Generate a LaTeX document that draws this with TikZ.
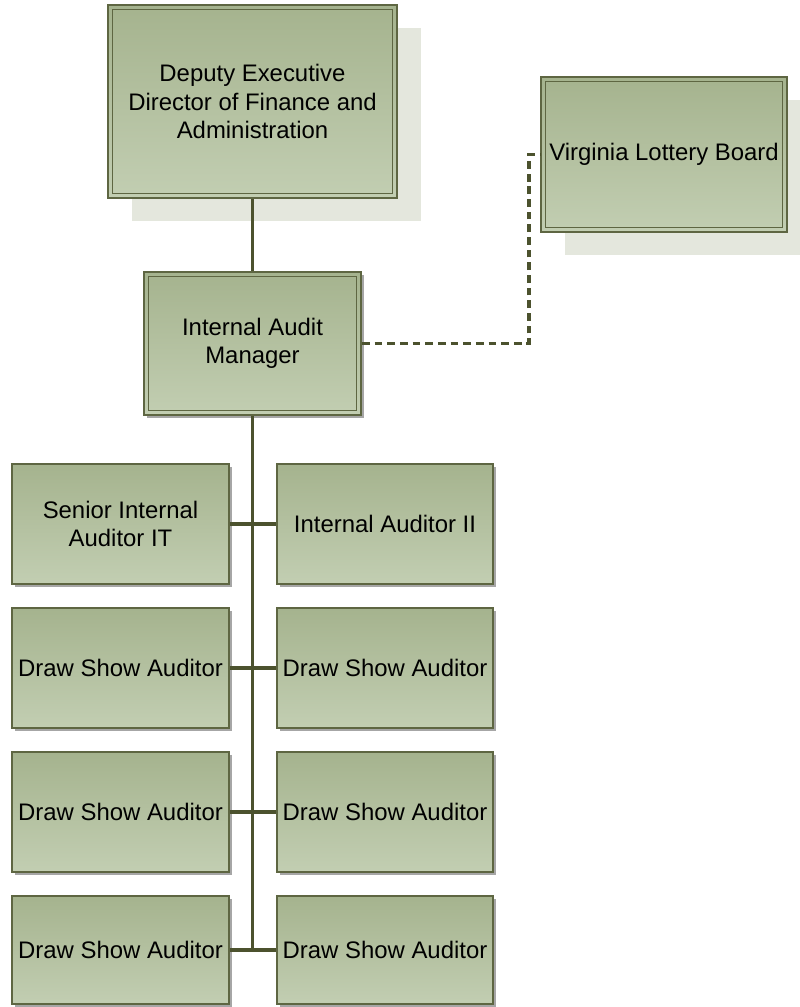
\documentclass[tikz,border=0pt]{standalone}
\usepackage{fontspec}
\setmainfont{Liberation Sans}
\usetikzlibrary{shadows}
\definecolor{boxBorder}{RGB}{94,102,66}
\definecolor{lineOlive}{RGB}{76,82,46}
\definecolor{fillTop}{RGB}{165,179,142}
\definecolor{fillBottom}{RGB}{194,206,178}
\definecolor{bigShadow}{RGB}{228,231,221}
\tikzset{
  orgbox/.style={draw=boxBorder,line width=1.3pt,top color=fillTop,bottom color=fillBottom,
    align=center,inner sep=2pt,font=\fontsize{17}{20}\selectfont},
  smallshadow/.style={drop shadow={shadow xshift=0.07cm,shadow yshift=-0.07cm,fill=black,opacity=0.35}},
  bigshadow/.style={drop shadow={shadow xshift=0.6cm,shadow yshift=-0.58cm,fill=bigShadow,opacity=1}},
  doubleline/.style={path picture={\draw[boxBorder,line width=0.8pt]
    ([shift={(0.11cm,-0.11cm)}]path picture bounding box.north west) rectangle
    ([shift={(-0.11cm,0.11cm)}]path picture bounding box.south east);}},
  solidlink/.style={draw=lineOlive,line width=2.6pt},
  dashlink/.style={draw=lineOlive,line width=2.3pt,dash pattern=on 5.5pt off 3.5pt}
}
\begin{document}
\begin{tikzpicture}[x=0.025cm,y=-0.025cm]
        \useasboundingbox (0,0) rectangle (800,1007);
        % top of the chart
        \node[orgbox,bigshadow,doubleline,minimum width=7.225cm,minimum height=4.825cm] (dep) at (252.5,101.5) {Deputy Executive\\Director of Finance and\\Administration};
        \node[orgbox,bigshadow,doubleline,minimum width=6.15cm,minimum height=3.875cm] (board) at (664,154.5) {Virginia Lottery Board};
        \node[orgbox,smallshadow,doubleline,minimum width=5.425cm,minimum height=3.575cm] (mgr) at (252.5,343.5) {Internal Audit\\Manager};
        % auditors
        \node[orgbox,smallshadow,minimum width=5.425cm,minimum height=3cm] (sia) at (120.5,524) {Senior Internal\\Auditor IT};
        \node[orgbox,smallshadow,minimum width=5.4cm,minimum height=3cm] (ia) at (385,524) {Internal Auditor II};
        \node[orgbox,smallshadow,minimum width=5.425cm,minimum height=3cm] (dsa1) at (120.5,668) {Draw Show Auditor};
        \node[orgbox,smallshadow,minimum width=5.4cm,minimum height=3cm] (dsa2) at (385,668) {Draw Show Auditor};
        \node[orgbox,smallshadow,minimum width=5.425cm,minimum height=3cm] (dsa3) at (120.5,812) {Draw Show Auditor};
        \node[orgbox,smallshadow,minimum width=5.4cm,minimum height=3cm] (dsa4) at (385,812) {Draw Show Auditor};
        \node[orgbox,smallshadow,minimum width=5.425cm,minimum height=2.7cm] (dsa5) at (120.5,950) {Draw Show Auditor};
        \node[orgbox,smallshadow,minimum width=5.4cm,minimum height=2.7cm] (dsa6) at (385,950) {Draw Show Auditor};
        % links
        \draw[solidlink] (dep.south) -- (mgr.north);
        \draw[solidlink] (mgr.south) -- (mgr.south |- dsa5.east);
        \draw[solidlink] (sia.east) -- (ia.west);
        \draw[solidlink] (dsa1.east) -- (dsa2.west);
        \draw[solidlink] (dsa3.east) -- (dsa4.west);
        \draw[solidlink] (dsa5.east) -- (dsa6.west);
        \coordinate (bend) at (529,343.5);
        \draw[dashlink] (mgr.east) -- (bend) |- (board.west);
      \end{tikzpicture}
\end{document}
